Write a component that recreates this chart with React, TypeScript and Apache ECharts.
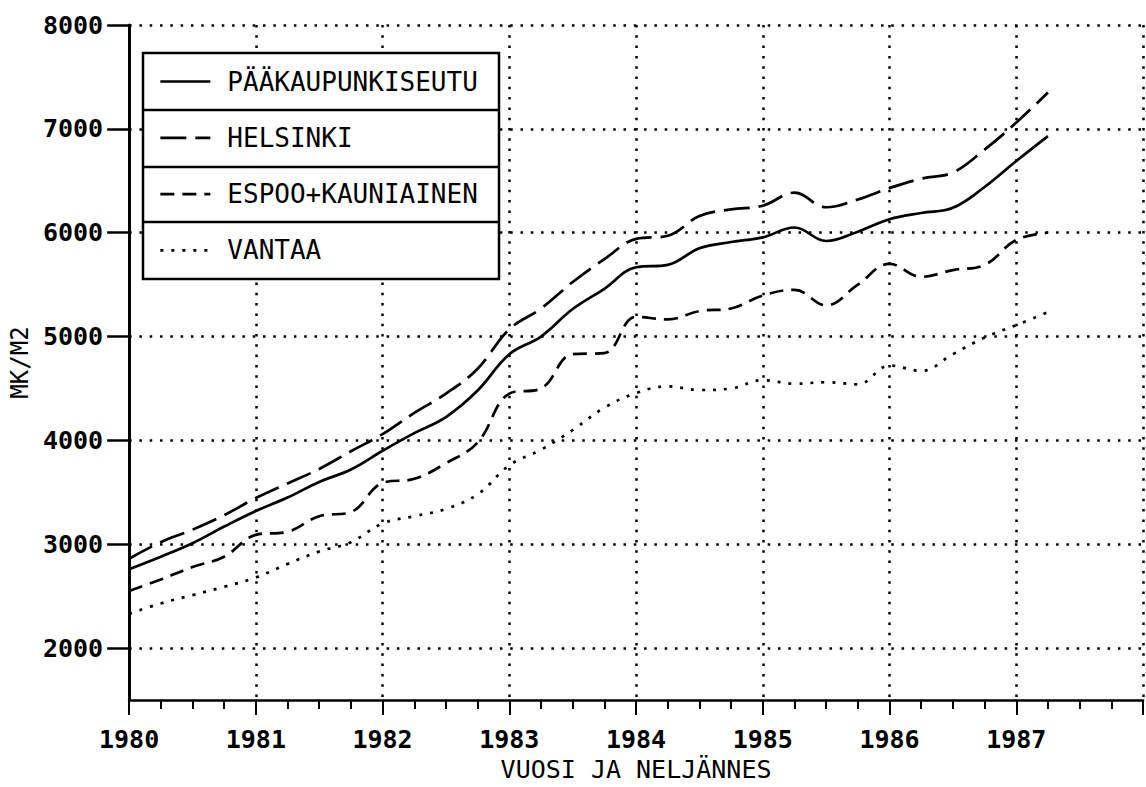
import React, { useEffect, useRef } from "react";
import * as echarts from "echarts";

const quarters = [
  1980, 1980.25, 1980.5, 1980.75, 1981, 1981.25, 1981.5, 1981.75,
  1982, 1982.25, 1982.5, 1982.75, 1983, 1983.25, 1983.5, 1983.75,
  1984, 1984.25, 1984.5, 1984.75, 1985, 1985.25, 1985.5, 1985.75,
  1986, 1986.25, 1986.5, 1986.75, 1987, 1987.25,
];

const seriesNames = ["PÄÄKAUPUNKISEUTU", "HELSINKI", "ESPOO+KAUNIAINEN", "VANTAA"];

const paakaupunkiseutu = [
  2760, 2880, 3010, 3170, 3320, 3450, 3600, 3720, 3900, 4070, 4225, 4480, 4830, 5000, 5265,
  5460, 5667, 5690, 5850, 5910, 5955, 6050, 5920, 6010, 6130, 6190, 6240, 6440, 6690, 6930,
];
const helsinki = [
  2860, 3020, 3140, 3280, 3445, 3585, 3725, 3895, 4060, 4265, 4450, 4690, 5070, 5270, 5525,
  5745, 5940, 5970, 6160, 6225, 6260, 6385, 6245, 6320, 6430, 6520, 6580, 6800, 7060, 7350,
];
const espoo = [
  2550, 2660, 2780, 2880, 3090, 3120, 3270, 3310, 3590, 3630, 3780, 3980, 4450, 4500, 4830,
  4840, 5190, 5165, 5245, 5270, 5395, 5450, 5300, 5500, 5700, 5575, 5640, 5690, 5930, 6000,
];
const vantaa = [
  2330, 2430, 2510, 2590, 2680, 2810, 2930, 3020, 3200, 3270, 3340, 3480, 3760, 3910, 4100,
  4315, 4455, 4520, 4485, 4500, 4580, 4545, 4560, 4540, 4720, 4670, 4830, 4990, 5110, 5235,
];

const yTickValues = [2000, 3000, 4000, 5000, 6000, 7000, 8000];
const xAxisTitle = "VUOSI JA NELJÄNNES";
const yAxisTitle = "MK/M2";

const FONT = "'DejaVu Sans Mono', monospace";

export default function App() {
  const ref = useRef<HTMLDivElement>(null);

  useEffect(() => {
    if (!ref.current) return;
    const chart = echarts.init(ref.current, undefined, { renderer: "svg" });

    const dashes: any[] = ["solid", [26, 9], [14, 8], [3, 8]];
    const allData = [paakaupunkiseutu, helsinki, espoo, vantaa];

    const series = allData.map((vals, si) => ({
      name: seriesNames[si],
      type: "line",
      data: quarters.map((q, i) => [q, vals[i]]),
      showSymbol: false,
      symbol: "none",
      smooth: 0.4,
      lineStyle: { color: "#000", width: 2.7, type: dashes[si], cap: "butt" },
      itemStyle: { color: "#000" },
      z: 2,
    }));

    const dotted = { color: "#000", width: 2.5, type: [2.5, 7.8] as any };

    chart.setOption({
      animation: false,
      backgroundColor: "#fff",
      grid: { left: 127, right: 0, top: 25, bottom: 84, containLabel: false },
      xAxis: {
        type: "value",
        min: 1980,
        max: 1988,
        interval: 1,
        name: xAxisTitle,
        nameLocation: "middle",
        nameGap: 57,
        nameTextStyle: { fontFamily: FONT, fontSize: 25, color: "#000" },
        axisLine: { show: true, onZero: false, lineStyle: { color: "#000", width: 2.5 } },
        axisTick: { show: true, inside: false, length: 15, lineStyle: { color: "#000", width: 2 } },
        minorTick: { show: true, splitNumber: 4, length: 9, lineStyle: { color: "#000", width: 2 } },
        axisLabel: {
          margin: 27,
          fontFamily: FONT,
          fontWeight: "bold",
          fontSize: 25,
          color: "#000",
          formatter: (v: number) => (v >= 1988 ? "" : String(v)),
        },
        splitLine: { show: true, lineStyle: dotted },
      },
      yAxis: {
        type: "value",
        min: 1500,
        max: 8000,
        splitNumber: 7,
        name: yAxisTitle,
        nameLocation: "middle",
        nameGap: 94,
        nameTextStyle: { fontFamily: FONT, fontSize: 24, color: "#000" },
        axisLine: { show: true, lineStyle: { color: "#000", width: 3 } },
        axisTick: {
          show: true,
          inside: false,
          length: 22,
          customValues: yTickValues,
          lineStyle: { color: "#000", width: 2.5 },
        },
        axisLabel: {
          margin: 26,
          fontFamily: FONT,
          fontWeight: "bold",
          fontSize: 25,
          color: "#000",
          customValues: yTickValues,
          formatter: (v: number) => (v % 1000 === 0 ? String(v) : ""),
        },
        splitLine: { show: true, lineStyle: dotted },
      },
      legend: {
        show: true,
        orient: "vertical",
        left: 159,
        top: 68.5,
        padding: 0,
        itemWidth: 50,
        itemHeight: 20,
        itemGap: 30.3,
        selectedMode: false,
        data: seriesNames,
        itemStyle: { opacity: 0, borderWidth: 0 },
        lineStyle: { width: 2.7 },
        textStyle: {
          fontFamily: FONT,
          fontSize: 26,
          color: "#000",
          padding: [0, 0, 0, 12],
        },
        z: 6,
      },
      graphic: [
        {
          type: "rect",
          z: 4,
          shape: { x: 143, y: 53, width: 356, height: 226 },
          style: { fill: "#fff", stroke: "#000", lineWidth: 2.5 },
        },
        {
          type: "line",
          z: 5,
          shape: { x1: 143, y1: 110, x2: 499, y2: 110 },
          style: { stroke: "#000", lineWidth: 2.5 },
        },
        {
          type: "line",
          z: 5,
          shape: { x1: 143, y1: 167, x2: 499, y2: 167 },
          style: { stroke: "#000", lineWidth: 2.5 },
        },
        {
          type: "line",
          z: 5,
          shape: { x1: 143, y1: 222, x2: 499, y2: 222 },
          style: { stroke: "#000", lineWidth: 2.5 },
        },
      ],
      series,
    });

    return () => chart.dispose();
  }, []);

  return (
    <div
      ref={ref}
      style={{ position: "fixed", left: 0, top: 0, width: 1146, height: 787, background: "#fff" }}
    />
  );
}
